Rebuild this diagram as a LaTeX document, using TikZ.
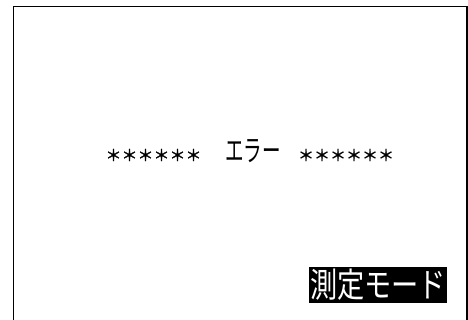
\documentclass[tikz,border=0pt]{standalone}
\usepackage{fontspec}
\newfontfamily\cjk{Noto Sans CJK JP}
\newfontfamily\cjkb[FakeBold=1.5]{Noto Sans CJK JP}
\tikzset{
  frame/.style={line width=1.3pt, black},
  stars/.style={inner sep=0pt, font=\cjkb\fontsize{16}{16}\selectfont},
  msg/.style={inner sep=0pt, font=\cjk\fontsize{18.5}{18.5}\selectfont, yscale=1.6},
  badge/.style={fill=black, text=white, inner sep=0pt, minimum width=138pt, minimum height=36pt},
}
\begin{document}
\begin{tikzpicture}[x=1pt,y=1pt]
\useasboundingbox (0,0) rectangle (468,320);
\fill[white] (0,0) rectangle (468,320);
\draw[frame] (13.5,0) -- (13.5,313.5) -- (467,313.5) -- (467,0);
\node[stars] (starsL) at (153.5,165) {＊＊＊＊＊＊};
\node[msg] (err) at (253,168.5) {エラー};
\node[stars] (starsR) at (346,165) {＊＊＊＊＊＊};
\node[badge] (mode) at (378,35) {};
\node[inner sep=0pt, text=white, font=\cjk\fontsize{34}{34}\selectfont, xscale=0.8] (modetext) at (mode.center) {測定モード};
\end{tikzpicture}
\end{document}
